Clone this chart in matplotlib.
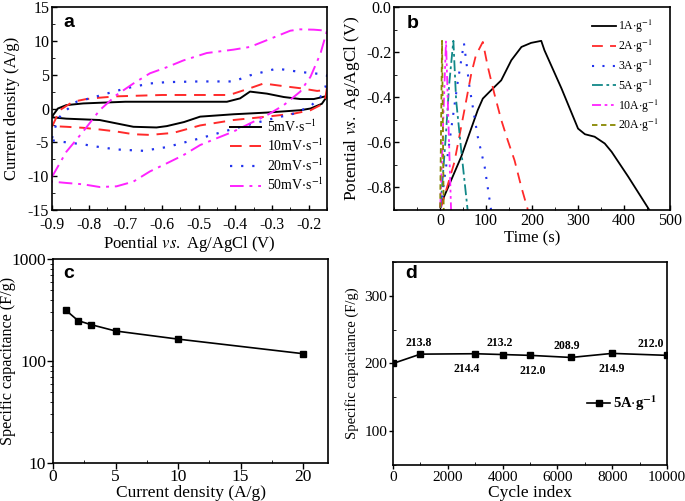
import numpy as np
import matplotlib
matplotlib.use("Agg")
import matplotlib.pyplot as plt
from matplotlib.ticker import MultipleLocator, FixedLocator

plt.rcParams["font.family"] = ["Liberation Serif", "DejaVu Serif"]
plt.rcParams["mathtext.fontset"] = "stix"
plt.rcParams["axes.unicode_minus"] = False

# ---- panel a: CV loops (potential V, current A/g), anodic then cathodic branch
cv_labels = [r"5mV$\cdot$s$^{-1}$", r"10mV$\cdot$s$^{-1}$", r"20mV$\cdot$s$^{-1}$", r"50mV$\cdot$s$^{-1}$"]
cv5_x = [-0.9, -0.884, -0.861, -0.815, -0.77, -0.7, -0.6, -0.5, -0.423, -0.387, -0.36, -0.314, -0.268, -0.223, -0.186, -0.154, -0.15,
         -0.164, -0.195, -0.223, -0.314, -0.405, -0.496, -0.54, -0.587, -0.615, -0.678, -0.724, -0.77, -0.815, -0.861, -0.9]
cv5_y = [-1.2, 0.0, 0.5, 0.75, 0.85, 1.0, 1.0, 1.0, 1.0, 1.5, 2.5, 2.2, 1.7, 1.4, 1.4, 1.8, 1.8,
         0.7, 0.0, -0.25, -0.6, -0.85, -1.2, -2.0, -2.6, -2.8, -2.7, -2.2, -1.7, -1.6, -1.5, -1.3]
cv10_x = [-0.9, -0.879, -0.843, -0.806, -0.77, -0.724, -0.6, -0.5, -0.423, -0.405, -0.36, -0.323, -0.268, -0.223, -0.177, -0.159, -0.15,
          -0.154, -0.168, -0.195, -0.24, -0.314, -0.405, -0.496, -0.569, -0.633, -0.678, -0.724, -0.77, -0.815, -0.861, -0.9]
cv10_y = [-2.7, -0.25, 1.0, 1.4, 1.6, 1.8, 2.0, 2.0, 2.0, 2.2, 3.0, 3.7, 3.3, 3.0, 2.6, 2.7, 3.1,
          1.7, 0.5, -0.25, -0.75, -1.2, -1.7, -2.5, -3.6, -3.9, -3.8, -3.4, -3.1, -2.85, -2.7, -2.6]
cv20_x = [-0.9, -0.884, -0.861, -0.833, -0.797, -0.751, -0.697, -0.633, -0.587, -0.5, -0.405, -0.36, -0.287, -0.223, -0.168, -0.15,
          -0.154, -0.168, -0.195, -0.24, -0.314, -0.405, -0.496, -0.587, -0.651, -0.724, -0.77, -0.815, -0.861, -0.9]
cv20_y = [-4.4, -1.5, -0.25, 1.0, 1.5, 2.2, 3.0, 3.7, 3.9, 4.0, 4.0, 4.9, 5.9, 5.4, 5.1, 4.9,
          3.2, 1.7, 0.35, -0.75, -1.7, -3.0, -4.4, -5.7, -6.25, -6.05, -5.7, -5.3, -5.0, -4.7]
cv50_x = [-0.9, -0.861, -0.815, -0.77, -0.724, -0.678, -0.633, -0.587, -0.542, -0.478, -0.405, -0.36, -0.314, -0.25, -0.223, -0.186, -0.15,
          -0.168, -0.195, -0.223, -0.268, -0.314, -0.36, -0.405, -0.451, -0.496, -0.542, -0.587, -0.633, -0.678, -0.724, -0.77, -0.815, -0.861, -0.9]
cv50_y = [-10.1, -6.4, -3.4, -0.25, 2.0, 3.7, 5.2, 6.1, 7.1, 8.2, 8.7, 9.1, 10.1, 11.5, 11.7, 11.65, 11.5,
          8.1, 4.7, 2.5, 0.5, -1.0, -2.2, -3.4, -4.4, -5.4, -6.9, -8.1, -9.3, -10.8, -11.5, -11.6, -11.2, -11.0, -10.8]

# ---- panel b: charge/discharge (time s, potential V)
gcd_labels = [r"1A$\cdot$g$^{-1}$", r"2A$\cdot$g$^{-1}$", r"3A$\cdot$g$^{-1}$",
              r"5A$\cdot$g$^{-1}$", r"10A$\cdot$g$^{-1}$", r"20A$\cdot$g$^{-1}$"]
g1_t = [2, 9, 46, 82, 93, 111, 133, 155, 177, 198, 220, 227, 264, 300, 315, 336, 358, 373, 409, 455]
g1_v = [-0.88, -0.84, -0.664, -0.457, -0.406, -0.369, -0.325, -0.236, -0.177, -0.159, -0.15,
        -0.192, -0.361, -0.539, -0.564, -0.575, -0.605, -0.642, -0.752, -0.9]
g2_t = [2, 31, 53, 68, 78, 93, 104, 118, 133, 147, 162, 177, 191]
g2_v = [-0.89, -0.69, -0.457, -0.295, -0.214, -0.155, -0.266, -0.384, -0.5, -0.59, -0.68, -0.8, -0.9]
g3_t = [1, 24, 38, 52, 64, 82, 97, 111]
g3_v = [-0.89, -0.546, -0.339, -0.16, -0.354, -0.575, -0.708, -0.9]
g5_t = [1, 13, 20, 29, 35, 46, 60]
g5_v = [-0.89, -0.56, -0.34, -0.15, -0.413, -0.634, -0.9]
g10_t = [0.5, 13, 24]
g10_v = [-0.89, -0.15, -0.9]
g20_t = [0.3, 4.4, 8]
g20_v = [-0.89, -0.15, -0.9]

# ---- panel c: rate capability
rate_j = [1, 2, 3, 5, 10, 20]
rate_c = [317, 249, 228, 197, 164, 118]

# ---- panel d: cycling at 5 A/g
cyc_n = [0, 1000, 3000, 4000, 5000, 6500, 8000, 10000]
cyc_c = [200, 213.8, 214.4, 213.2, 212.0, 208.9, 214.9, 212.0]
cyc_txt = ["213.8", "214.4", "213.2", "212.0", "208.9", "214.9", "212.0"]

fig = plt.figure(figsize=(6.85, 5.01), dpi=100)
ax_a = fig.add_axes([0.0759, 0.5808, 0.4015, 0.4052])
ax_b = fig.add_axes([0.5752, 0.5808, 0.4030, 0.4052])
ax_c = fig.add_axes([0.0774, 0.0758, 0.4015, 0.4072])
ax_d = fig.add_axes([0.5737, 0.0719, 0.4000, 0.4052])

for ax in (ax_a, ax_b, ax_c, ax_d):
    ax.tick_params(width=1.0, pad=2)
    for s in ax.spines.values():
        s.set_linewidth(1.2)

def panel_tag(ax, s, x, y):
    ax.text(x, y, s, transform=ax.transAxes, fontsize=14, fontweight="bold",
            family="Liberation Sans", va="baseline")

# a
ax_a.plot(cv5_x, cv5_y, color="black", lw=1.4, ls="-", label=cv_labels[0])
ax_a.plot(cv10_x, cv10_y, color="#ff2a2a", lw=1.4, ls=(0, (6, 4)), label=cv_labels[1])
ax_a.plot(cv20_x, cv20_y, color="#2233ee", lw=1.6, ls=(0, (1, 4)), label=cv_labels[2])
ax_a.plot(cv50_x, cv50_y, color="#ff22ff", lw=1.4, ls=(0, (7, 3, 1.5, 3)), label=cv_labels[3])
ax_a.set_xlim(-0.9, -0.15)
ax_a.set_ylim(-15, 15)
ax_a.xaxis.set_major_locator(FixedLocator([-0.9, -0.8, -0.7, -0.6, -0.5, -0.4, -0.3, -0.2]))
ax_a.xaxis.set_minor_locator(MultipleLocator(0.05))
ax_a.yaxis.set_major_locator(MultipleLocator(5))
ax_a.yaxis.set_minor_locator(MultipleLocator(2.5))
ax_a.tick_params(which="both", direction="in", labelsize=11.5)
ax_a.tick_params(axis="x", pad=5)
ax_a.set_xlabel(r"Poential $\mathit{vs.}$ Ag/AgCl (V)", fontsize=12)
ax_a.set_ylabel("Current density (A/g)", fontsize=12)
ax_a.xaxis.set_label_coords(0.5, -0.168)
ax_a.yaxis.set_label_coords(-0.144, 0.5)
ax_a.xaxis.label.set_va("center")
ax_a.yaxis.label.set_va("center")
ax_a.legend(loc="lower left", frameon=False, fontsize=10, handlelength=2.3,
            labelspacing=0.22, handletextpad=0.4, bbox_to_anchor=(0.6, 0.02))
panel_tag(ax_a, "a", 0.04, 0.90)

# b
ax_b.plot(g1_t, g1_v, color="black", lw=1.3, ls="-", label=gcd_labels[0])
ax_b.plot(g2_t, g2_v, color="#ff2a2a", lw=1.3, ls=(0, (6, 4)), label=gcd_labels[1])
ax_b.plot(g3_t, g3_v, color="#2233ee", lw=1.5, ls=(0, (1, 4)), label=gcd_labels[2])
ax_b.plot(g5_t, g5_v, color="#118888", lw=1.3, ls=(0, (6, 2, 1.5, 2)), label=gcd_labels[3])
ax_b.plot(g10_t, g10_v, color="#ff22ff", lw=1.3, ls=(0, (5, 2, 1.5, 2, 1.5, 2)), label=gcd_labels[4])
ax_b.plot(g20_t, g20_v, color="#888800", lw=1.3, ls=(0, (3, 2)), label=gcd_labels[5])
ax_b.set_xlim(-100, 500)
ax_b.set_ylim(-0.9, 0.0)
ax_b.xaxis.set_major_locator(FixedLocator([0, 100, 200, 300, 400, 500]))
ax_b.xaxis.set_minor_locator(MultipleLocator(50))
ax_b.yaxis.set_major_locator(FixedLocator([0.0, -0.2, -0.4, -0.6, -0.8]))
ax_b.yaxis.set_minor_locator(MultipleLocator(0.1))
ax_b.yaxis.set_major_formatter(plt.FuncFormatter(lambda v, p: f"{v:.1f}"))
ax_b.tick_params(which="both", direction="in", labelsize=11.5)
ax_b.set_xlabel("Time (s)", fontsize=12)
ax_b.set_ylabel(r"Potential $\mathit{vs.}$ Ag/AgCl (V)", fontsize=12.5)
ax_b.xaxis.set_label_coords(0.5, -0.138)
ax_b.yaxis.set_label_coords(-0.152, 0.5)
ax_b.xaxis.label.set_va("center")
ax_b.yaxis.label.set_va("center")
ax_b.legend(loc="upper left", frameon=False, fontsize=8.5, handlelength=2.0,
            labelspacing=0.22, handletextpad=0.2, bbox_to_anchor=(0.68, 1.0))
panel_tag(ax_b, "b", 0.047, 0.897)

# c
ax_c.plot(rate_j, rate_c, color="black", lw=1.2, marker="s", ms=4.5)
ax_c.set_yscale("log")
ax_c.set_xlim(0, 22)
ax_c.set_ylim(10, 1000)
ax_c.xaxis.set_major_locator(FixedLocator([0, 5, 10, 15, 20]))
ax_c.xaxis.set_minor_locator(MultipleLocator(2.5))
ax_c.yaxis.set_major_formatter(plt.FuncFormatter(lambda v, p: f"{v:g}"))
ax_c.tick_params(which="major", direction="out", length=4, labelsize=12.5, pad=1)
ax_c.tick_params(axis="x", which="major", pad=0)
ax_c.tick_params(which="minor", direction="out", length=2.5)
ax_c.tick_params(axis="x", which="minor", direction="in")
ax_c.set_xlabel("Current density (A/g)", fontsize=12.5)
ax_c.set_ylabel("Specific capacitance (F/g)", fontsize=11.6)
ax_c.xaxis.set_label_coords(0.5, -0.145)
ax_c.yaxis.set_label_coords(-0.164, 0.5)
ax_c.xaxis.label.set_va("center")
ax_c.yaxis.label.set_va("center")
panel_tag(ax_c, "c", 0.036, 0.907)

# d
ax_d.plot(cyc_n, cyc_c, color="black", lw=1.2, marker="s", ms=5,
          label=r"5A$\cdot$g$^{\mathbf{-1}}$")
ax_d.set_xlim(0, 10000)
ax_d.set_ylim(50, 350)
ax_d.xaxis.set_major_locator(MultipleLocator(2000))
ax_d.xaxis.set_minor_locator(MultipleLocator(1000))
ax_d.yaxis.set_major_locator(FixedLocator([100, 200, 300]))
ax_d.yaxis.set_minor_locator(MultipleLocator(50))
ax_d.tick_params(which="major", direction="out", length=3, labelsize=11, pad=1)
ax_d.tick_params(which="minor", direction="in", length=2.5)
ax_d.set_xlabel("Cycle index", fontsize=12.5)
ax_d.set_ylabel("Specific capacitance (F/g)", fontsize=10.5)
ax_d.xaxis.set_label_coords(0.5, -0.14)
ax_d.yaxis.set_label_coords(-0.15, 0.5)
ax_d.xaxis.label.set_va("center")
ax_d.yaxis.label.set_va("center")
x_shift = [-50, -300, -100, 100, -150, 0, -600]
for i, (n, c, t) in enumerate(zip(cyc_n[1:], cyc_c[1:], cyc_txt)):
    up = i % 2 == 0
    ax_d.annotate(t, (n + x_shift[i], c), xytext=(0, 8 if up else -11),
                  textcoords="offset points", ha="center", va="center",
                  fontsize=8.5, fontweight="bold")
ax_d.legend(loc="center left", frameon=False, prop={"weight": "bold", "size": 10.5},
            handlelength=1.6, handletextpad=0.2, bbox_to_anchor=(0.66, 0.305))
panel_tag(ax_d, "d", 0.044, 0.92)

fig.savefig("out.png", dpi=100)
